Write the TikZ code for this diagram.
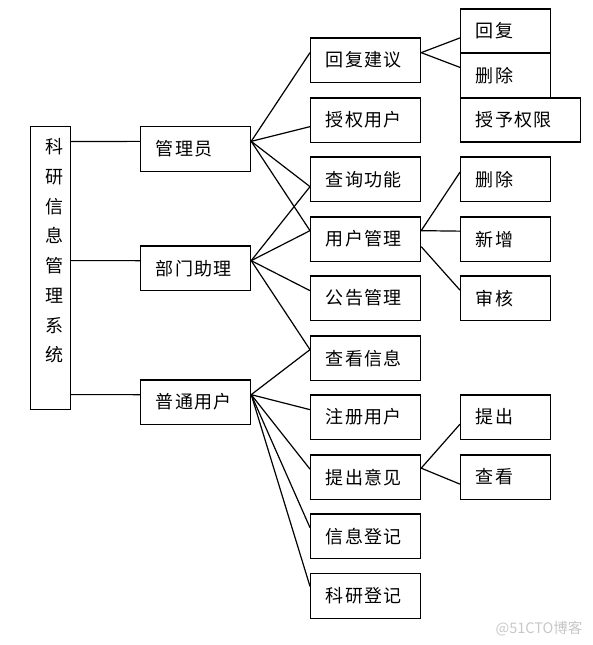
\documentclass[tikz,border=0pt]{standalone}
\usepackage{fontspec}
\newfontfamily\cjk{Noto Sans CJK SC}
\tikzset{
  box/.style={draw, line width=1.2pt, anchor=north west, align=left,
    inner xsep=15pt, inner ysep=0pt, minimum height=44.5pt,
    font=\cjk\fontsize{18}{20}\selectfont\addfontfeature{LetterSpace=8}},
  w110/.style={text width=80pt},
  w90/.style={text width=60pt},
  w120/.style={text width=90pt},
  ln/.style={line width=1.2pt}
}
\begin{document}
\begin{tikzpicture}[x=1pt,y=-1pt]
\useasboundingbox (0,0) rectangle (592,645);
% root
\node[draw, line width=1.2pt, anchor=north west, minimum width=40pt, minimum height=283pt, inner sep=0pt] (root) at (30,126) {};
\node[anchor=north, align=center, inner sep=0pt, font=\cjk\fontsize{18}{29.7}\selectfont] (roottext) at (54,138.5) {科\\研\\信\\息\\管\\理\\系\\统};
% column 2
\node[box,w110] (gly) at (140,126) {管理员};
\node[box,w110] (bmzl) at (140,245.3) {部门助理};
\node[box,w110] (ptyh) at (140,379.3) {普通用户};
% column 3
\node[box,w110] (hfjy) at (310,37.3) {回复建议};
\node[box,w110] (sqyh) at (310,97.3) {授权用户};
\node[box,w110] (cxgn) at (310,156.3) {查询功能};
\node[box,w110] (yhgl) at (310,216.3) {用户管理};
\node[box,w110] (gggl) at (310,275.3) {公告管理};
\node[box,w110] (ckxx) at (310,335.3) {查看信息};
\node[box,w110] (zcyh) at (310,394.3) {注册用户};
\node[box,w110] (tcyj) at (310,454.3) {提出意见};
\node[box,w110] (xxdj) at (310,513.3) {信息登记};
\node[box,w110] (kydj) at (310,573) {科研登记};
% column 4
\node[box,w90,minimum height=44pt] (hf) at (460,8.3) {回复};
\node[box,w90,minimum height=45pt] (sc1) at (460,52.3) {删除};
\node[box,w120,minimum height=44pt] (syqx) at (460,97.3) {授予权限};
\node[box,w90] (sc2) at (460,156.3) {删除};
\node[box,w90] (xz) at (460,216.3) {新增};
\node[box,w90] (sh) at (460,275.3) {审核};
\node[box,w90] (tc) at (460,394.3) {提出};
\node[box,w90] (ck) at (460,454.3) {查看};
% root connectors
\draw[ln] ([yshift=126.5pt]root.east) -- ([yshift=7.5pt]gly.west);
\draw[ln] ([yshift=7.5pt]root.east) -- ([yshift=7.5pt]bmzl.west);
\draw[ln] ([yshift=-126.5pt]root.east) -- ([yshift=7.5pt]ptyh.west);
% 管理员 fan
\draw[ln] ([yshift=7.5pt]gly.east) -- ([yshift=7.5pt]hfjy.west);
\draw[ln] ([yshift=7.5pt]gly.east) -- ([yshift=-6.5pt]sqyh.west);
\draw[ln] ([yshift=7.5pt]gly.east) -- ([yshift=-7.5pt]cxgn.west);
\draw[ln] ([yshift=7.5pt]gly.east) -- ([yshift=8.5pt]yhgl.west);
% 部门助理 fan
\draw[ln] ([yshift=7.5pt]bmzl.east) -- ([yshift=-7.5pt]cxgn.west);
\draw[ln] ([yshift=7.5pt]bmzl.east) -- ([yshift=8.5pt]yhgl.west);
\draw[ln] ([yshift=7.5pt]bmzl.east) -- ([yshift=7.5pt]gggl.west);
\draw[ln] ([yshift=7.5pt]bmzl.east) -- ([yshift=8.5pt]ckxx.west);
% 普通用户 fan
\draw[ln] ([yshift=7.5pt]ptyh.east) -- ([yshift=8.5pt]ckxx.west);
\draw[ln] ([yshift=7.5pt]ptyh.east) -- ([yshift=7.5pt]zcyh.west);
\draw[ln] ([yshift=7.5pt]ptyh.east) -- ([yshift=8pt]tcyj.west);
\draw[ln] ([yshift=7.5pt]ptyh.east) -- ([yshift=8.5pt]xxdj.west);
\draw[ln] ([yshift=7.5pt]ptyh.east) -- ([yshift=9.5pt]kydj.west);
% column 3 -> column 4
\draw[ln] ([yshift=7.5pt]hfjy.east) -- ([yshift=-7pt]hf.west);
\draw[ln] ([yshift=7.5pt]hfjy.east) -- ([yshift=8pt]sc1.west);
\draw[ln] ([yshift=8.5pt]yhgl.east) -- ([yshift=7pt]sc2.west);
\draw[ln] ([yshift=8.5pt]yhgl.east) -- ([yshift=8pt]xz.west);
\draw[ln] ([yshift=-7.5pt]yhgl.east) -- ([yshift=8pt]sh.west);
\draw[ln] ([yshift=9pt]tcyj.east) -- ([yshift=-7pt]tc.west);
\draw[ln] ([yshift=9pt]tcyj.east) -- ([yshift=-7pt]ck.west);
% watermark
\node[inner sep=0pt, text=black!22, font=\cjk\fontsize{14.5}{16}\selectfont] (wm) at (539,628.5) {@51CTO博客};
\end{tikzpicture}
\end{document}
